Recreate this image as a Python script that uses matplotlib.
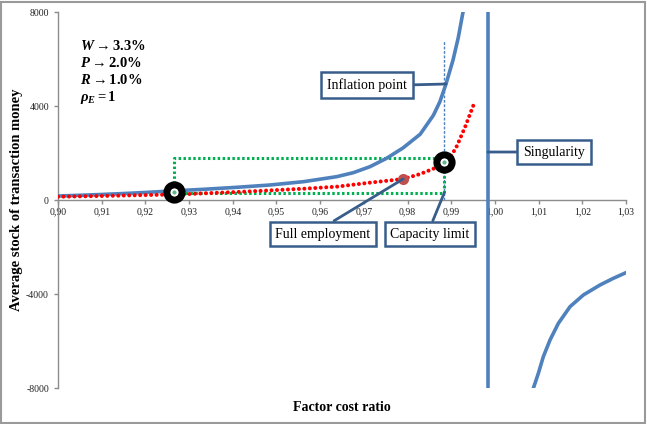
import matplotlib
matplotlib.use("Agg")
import matplotlib.pyplot as plt
from matplotlib.patches import Rectangle
from matplotlib.ticker import FixedLocator, FuncFormatter

plt.rcParams['font.family'] = ['Liberation Serif', 'DejaVu Serif']
plt.rcParams['mathtext.fontset'] = 'custom'
plt.rcParams['mathtext.rm'] = 'Liberation Serif:bold'
plt.rcParams['mathtext.it'] = 'Liberation Serif:bold:italic'
plt.rcParams['mathtext.bf'] = 'Liberation Serif:bold'

# ---- data ----
blue_left_x = [0.900, 0.905, 0.910, 0.915, 0.920, 0.9256, 0.9333, 0.9409, 0.9485, 0.9562, 0.9638,
               0.9676, 0.9714, 0.9752, 0.9790, 0.9829, 0.9859, 0.9874, 0.9888, 0.9904, 0.9916,
               0.9927, 0.9935]
blue_left_y = [170, 200, 235, 275, 320, 380, 455, 540, 638, 780, 993,
               1163, 1418, 1773, 2220, 2800, 3600, 4180, 4936, 5950, 6900,
               8000, 9000]
blue_right_x = [1.0085, 1.00879, 1.00994, 1.01108, 1.01261, 1.01452, 1.01719, 1.02024, 1.02405,
                1.02710, 1.03016]
blue_right_y = [-8400, -8013, -7375, -6666, -5957, -5248, -4539, -4042, -3617,
                -3333, -3078]
singularity_x = 0.9984

red_x = [0.900, 0.905, 0.910, 0.915, 0.920, 0.9287, 0.9333, 0.9409, 0.9485, 0.9562, 0.9638,
         0.9714, 0.9790, 0.9829, 0.9867, 0.9884, 0.9900, 0.9913, 0.9932, 0.9951]
red_y = [140, 155, 170, 190, 210, 242, 284, 340, 408, 480, 567,
         738, 894, 1106, 1390, 1630, 1880, 2300, 3120, 4043]

rect_x = [0.9266, 0.9884]
rect_y = [298, 1787]

ring_x = [0.9266, 0.9884]
ring_y = [350, 1630]

full_emp_x, full_emp_y = 0.979, 894
inflation_x, inflation_y = 0.9888, 4936
inflation_line_top = 6800

x_ticks = [0.90, 0.91, 0.92, 0.93, 0.94, 0.95, 0.96, 0.97, 0.98, 0.99, 1.00, 1.01, 1.02, 1.03]
y_ticks = [-8000, -4000, 0, 4000, 8000]

params_text = [r'$W \rightarrow 3.3\%$', r'$P \rightarrow 2.0\%$', r'$R \rightarrow 1.0\%$', r'$\rho_E = 1$']

# ---- figure ----
fig = plt.figure(figsize=(6.47, 4.24), dpi=100)
ax = fig.add_axes([58/647, 1-388/424, (626-58)/647, (388-12)/424])
fig.patches.append(Rectangle((0.001, 0.002), 0.996, 0.994, transform=fig.transFigure,
                             fill=False, edgecolor='#9a9a9a', linewidth=1.5))

blue = '#4f81bd'
dark = '#385d8a'

ax.set_xlim(0.90, 1.03)
ax.set_ylim(-8000, 8000)

# green rectangle
gx = [rect_x[0], rect_x[0], rect_x[1], rect_x[1], rect_x[0]]
gy = [rect_y[0], rect_y[1], rect_y[1], rect_y[0], rect_y[0]]
# dashed vertical
ax.plot([rect_x[1], rect_x[1]], [0, inflation_line_top], color=blue, lw=1.0, ls=(0, (2, 1.2)), zorder=2)
ax.plot(gx, gy, color='#00b050', lw=2.2, ls=(0, (0.8, 0.8)), zorder=3)

# blue curves
ax.plot(blue_left_x, blue_left_y, color=blue, lw=2.6, zorder=4, solid_capstyle='butt', solid_joinstyle='round')
ax.plot(blue_right_x, blue_right_y, color=blue, lw=2.6, zorder=4, solid_capstyle='butt', solid_joinstyle='round')
ax.plot([singularity_x, singularity_x], [-8000, 8000], color=blue, lw=2.6, zorder=4, solid_capstyle='butt')

# red dotted
ax.plot(red_x, red_y, color='#ff0000', lw=2.9, ls=(0, (0.01, 1.35)), dash_capstyle='round', zorder=5)

# rings
ax.plot(ring_x, ring_y, ls='none', marker='o', ms=11, mfc='white', mec='black', mew=5, zorder=6)
ax.plot(ring_x, ring_y, ls='none', marker='o', ms=3, mfc='#5cb88a', mec='none', zorder=7)

# full employment dot
ax.plot([full_emp_x], [full_emp_y], ls='none', marker='o', ms=8, mfc='#c0504d', mec='none', zorder=6)

# spines
for s in ['top', 'right']:
    ax.spines[s].set_visible(False)
ax.spines['bottom'].set_position(('data', 0))
ax.spines['bottom'].set_color('#8c8c8c')
ax.spines['left'].set_color('#8c8c8c')
ax.spines['bottom'].set_linewidth(1.0)
ax.spines['left'].set_linewidth(1.0)
ax.xaxis.set_major_locator(FixedLocator(x_ticks))
ax.yaxis.set_major_locator(FixedLocator(y_ticks))
ax.xaxis.set_major_formatter(FuncFormatter(lambda v, p: f'{v:.2f}'.replace('.', ',')))
ax.yaxis.set_major_formatter(FuncFormatter(lambda v, p: f'{v:.0f}'))
ax.tick_params(axis='both', labelsize=7, colors='#8c8c8c', labelcolor='#222222', length=3, width=1, direction='out')
ax.tick_params(axis='x', pad=2)

ax.set_xlabel('Factor cost ratio', fontsize=10, fontweight='bold')
ax.set_ylabel('Average stock of transaction money', fontsize=10.5, fontweight='bold')
ax.xaxis.set_label_coords(0.5, -0.034)
ax.yaxis.set_label_coords((23-58)/568, 0.5)

# parameter block
for i, t in enumerate(params_text):
    ax.text(80/647, 1-(46+17*i)/424, t, transform=fig.transFigure, fontsize=10.5,
            ha='left', va='center')

# callouts
box = dict(boxstyle='square,pad=0.42', fc='white', ec=dark, lw=1.8)
def callout(text, tx, ty, px, py, rel):
    ax.annotate(text, xy=(px, py), xytext=(tx, ty), fontsize=10, ha='center', va='center',
                bbox=box, zorder=8,
                arrowprops=dict(arrowstyle='-', color=dark, lw=2.0, relpos=rel,
                                shrinkA=0, shrinkB=0))

callout('Inflation point', 0.97073, 4894, inflation_x, inflation_y, (1, 0.5))
callout('Singularity', 1.0135, 2042, singularity_x, 2042, (0, 0.5))
callout('Full employment', 0.96065, -1447, full_emp_x, full_emp_y, (0.5, 1))
callout('Capacity limit', 0.98515, -1447, rect_x[1], rect_y[0], (0.5, 1))

fig.savefig('out.png', dpi=100)
